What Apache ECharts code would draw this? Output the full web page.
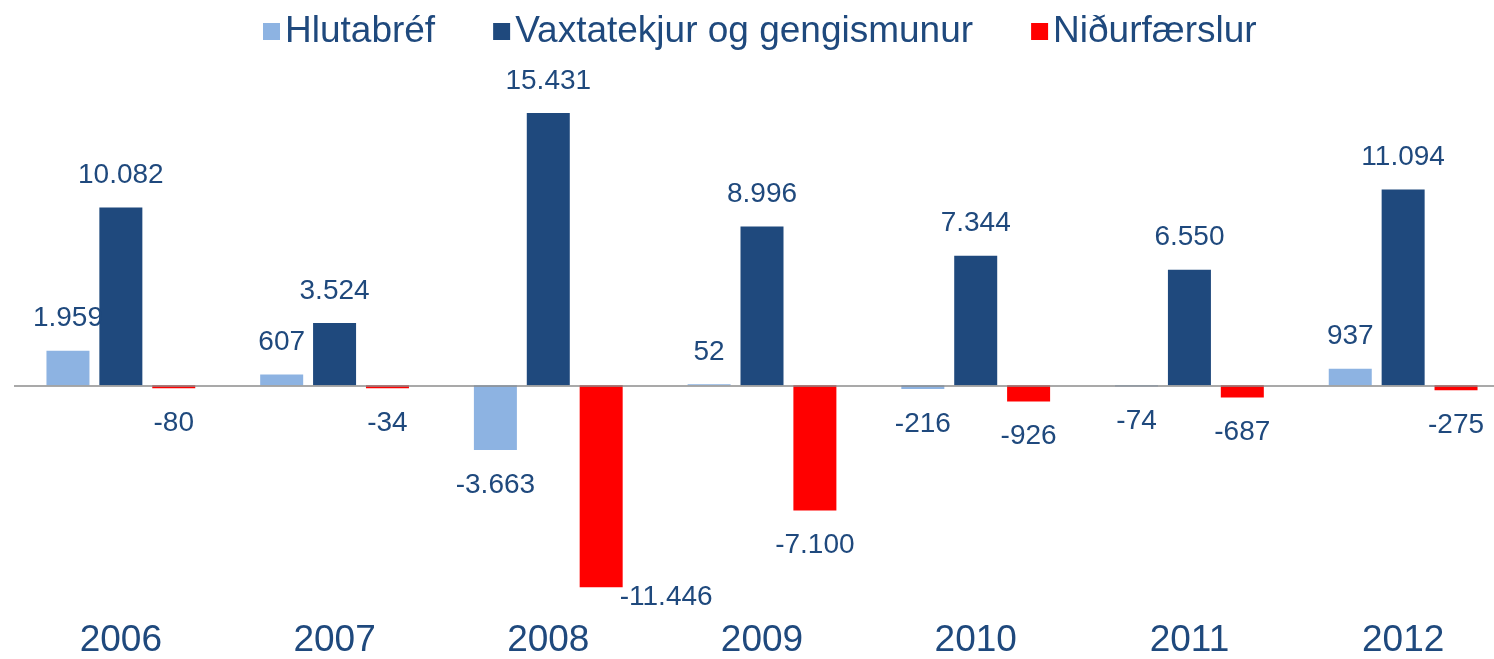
<!DOCTYPE html>
<html>
<head>
<meta charset="utf-8">
<script src="https://cdn.jsdelivr.net/npm/echarts@6/dist/echarts.min.js"></script>
<style>
  html, body { margin: 0; padding: 0; background: #fff; overflow: hidden; }
  /* wider than the window: the last group runs past the right edge like the original */
  #chart { width: 1510px; height: 659px; }
</style>
</head>
<body>
<div id="chart"></div>
<script>
// data (millions ISK)
const years = ['2006', '2007', '2008', '2009', '2010', '2011', '2012']
const seriesNames = ['Hlutabréf', 'Vaxtatekjur og gengismunur', 'Niðurfærslur']
const hlutabref = [1959, 607, -3663, 52, -216, -74, 937]
const vaxtatekjur = [10082, 3524, 15431, 8996, 7344, 6550, 11094]
const nidurfaerslur = [-80, -34, -11446, -7100, -926, -687, -275]
const colors = ['#8DB3E2', '#1F497D', '#FF0000']

const textColor = '#1F497D'
const fontFamily = 'Liberation Sans, Arial, sans-serif'

function fmt (v) {
  const s = Math.abs(v).toString().replace(/\B(?=(\d{3})+(?!\d))/g, '.')
  return (v < 0 ? '-' : '') + s
}

// per-item label placement: above positive bars, below negative ones
function buildData (values, extra) {
  return values.map((v, i) => {
    const item = {
      value: v,
      label: v < 0 ? { position: 'bottom', distance: 21 } : { position: 'top', distance: 18 }
    }
    if (extra && extra[i]) Object.assign(item.label, extra[i])
    return item
  })
}

const myChart = echarts.init(document.getElementById('chart'))
const allValues = [hlutabref, vaxtatekjur, nidurfaerslur]

myChart.setOption({
  animation: false,
  color: colors,
  textStyle: { fontFamily: fontFamily },
  legend: {
    data: seriesNames,
    left: 258,
    top: 8,
    itemWidth: 17,
    itemHeight: 17,
    itemGap: 58,
    icon: 'rect',
    textStyle: { fontSize: 37, color: textColor, fontFamily: fontFamily }
  },
  grid: {
    left: 14,
    right: 0,
    top: 103,
    height: 494,
    containLabel: false
  },
  xAxis: {
    type: 'category',
    data: years,
    axisLine: { show: false, onZero: false },
    axisTick: { show: false },
    splitLine: { show: false },
    axisLabel: { fontSize: 37, color: textColor, margin: 25, fontFamily: fontFamily }
  },
  yAxis: {
    type: 'value',
    min: -12000,
    max: 16000,
    interval: 4000,
    show: false,
    splitLine: { show: false }
  },
  series: seriesNames.map((name, si) => ({
    name: name,
    type: 'bar',
    barWidth: 43,
    barGap: '23%',
    barMinHeight: si === 2 ? 3 : 0,
    data: buildData(allValues[si], si === 2 ? { 2: { offset: [65, -25] } } : null),
    label: {
      show: true,
      fontSize: 28,
      color: textColor,
      fontFamily: fontFamily,
      formatter: p => fmt(p.value)
    },
    markLine: si === 0 ? {
      silent: true,
      symbol: 'none',
      label: { show: false },
      lineStyle: { color: '#8c8c8c', width: 1.5, type: 'solid' },
      data: [{ yAxis: 0 }]
    } : undefined
  }))
})
</script>
</body>
</html>
